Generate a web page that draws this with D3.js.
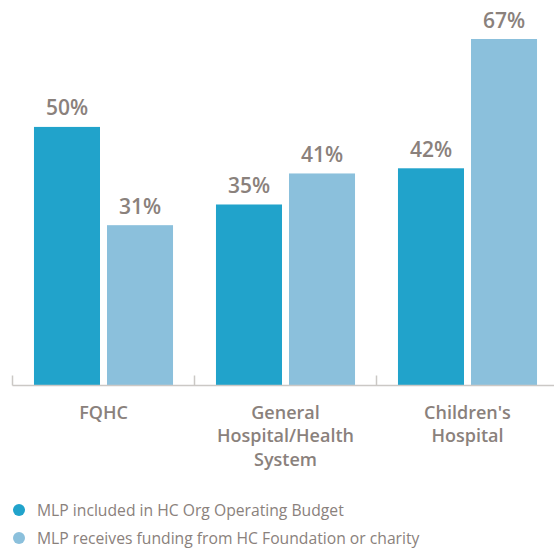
<!DOCTYPE html>
<html>
<head>
<meta charset="utf-8">
<script src="https://cdn.jsdelivr.net/npm/d3@7"></script>
<style>
  body { margin: 0; background: #fff; }
  text { font-family: "Open Sans", sans-serif; fill: #8a817c; }
</style>
</head>
<body>
<script>
// categories and series
var categories = ["FQHC", "General Hospital/Health System", "Children's Hospital"];
var categoryLines = [["FQHC"], ["General", "Hospital/Health", "System"], ["Children's", "Hospital"]];
var seriesNames = ["MLP included in HC Org Operating Budget", "MLP receives funding from HC Foundation or charity"];
var budgetValues = [50, 35, 42];
var foundationValues = [31, 41, 67];
var colors = ["#21a3cb", "#8bc0dc"];

var width = 554, height = 550;
var baseline = 385.5;

var svg = d3.select("body").append("svg")
    .attr("width", width)
    .attr("height", height);

// build rows from the arrays
var data = categories.map(function(c, i) {
    return {cat: c, lines: categoryLines[i], values: [budgetValues[i], foundationValues[i]]};
});

// set the ranges
var x0 = d3.scaleBand()
    .domain(categories)
    .range([12.5, 558.5])
    .paddingInner(0.236)
    .paddingOuter(0.118);

var x1 = d3.scaleBand()
    .domain(seriesNames)
    .range([0, x0.bandwidth()])
    .paddingInner(7 / 73);

var yScale = d3.scaleLinear()
    .domain([0, 67])
    .range([baseline, 39]);

var groups = svg.selectAll(".group")
    .data(data)
    .enter().append("g")
    .attr("class", "group")
    .attr("transform", function(d) { return "translate(" + x0(d.cat) + ",0)"; });

// bars
groups.selectAll("rect")
    .data(function(d) { return d.values.map(function(v, j) { return {v: v, s: seriesNames[j], j: j}; }); })
    .enter().append("rect")
    .attr("x", function(d) { return x1(d.s); })
    .attr("width", x1.bandwidth())
    .attr("y", function(d) { return yScale(d.v); })
    .attr("height", function(d) { return baseline - yScale(d.v); })
    .attr("fill", function(d) { return colors[d.j]; });

// value labels
groups.selectAll(".val")
    .data(function(d) { return d.values.map(function(v, j) { return {v: v, s: seriesNames[j]}; }); })
    .enter().append("text")
    .attr("class", "val")
    .attr("x", function(d) { return x1(d.s) + x1.bandwidth() / 2; })
    .attr("y", function(d) { return yScale(d.v) - 11.5; })
    .attr("text-anchor", "middle")
    .style("font-size", "21px")
    .style("font-weight", 600)
    .text(function(d) { return d.v + "%"; });

// x axis line and ticks (ticks at the group boundaries, pointing up)
svg.append("line")
    .attr("x1", x0.range()[0])
    .attr("x2", width)
    .attr("y1", baseline)
    .attr("y2", baseline)
    .attr("stroke", "#cbc8c5")
    .attr("stroke-width", 1.5);

svg.selectAll(".tick")
    .data(categories)
    .enter().append("line")
    .attr("class", "tick")
    .attr("x1", function(d) { return x0(d) - x0.step() * x0.paddingOuter(); })
    .attr("x2", function(d) { return x0(d) - x0.step() * x0.paddingOuter(); })
    .attr("y1", baseline - 10)
    .attr("y2", baseline)
    .attr("stroke", "#cbc8c5")
    .attr("stroke-width", 1.5);

// category labels
var catLabels = svg.selectAll(".cat")
    .data(data)
    .enter().append("text")
    .attr("class", "cat")
    .attr("text-anchor", "middle")
    .attr("y", 418.5)
    .style("font-size", "18px")
    .style("font-weight", 600);

catLabels.selectAll("tspan")
    .data(function(d) { return d.lines.map(function(l) { return {l: l, cat: d.cat}; }); })
    .enter().append("tspan")
    .attr("x", function(d) { return x0(d.cat) + x0.bandwidth() / 2; })
    .attr("dy", function(d, i) { return i === 0 ? 0 : 23.5; })
    .text(function(d) { return d.l; });

// legend
var legend = svg.selectAll(".legend")
    .data(seriesNames)
    .enter().append("g")
    .attr("class", "legend")
    .attr("transform", function(d, i) { return "translate(0," + (510 + i * 28) + ")"; });

legend.append("circle")
    .attr("cx", 19)
    .attr("cy", 0)
    .attr("r", 6)
    .attr("fill", function(d, i) { return colors[i]; });

legend.append("text")
    .attr("x", 37)
    .attr("y", 5.5)
    .style("font-size", "15.7px")
    .text(function(d) { return d; });
</script>
</body>
</html>
